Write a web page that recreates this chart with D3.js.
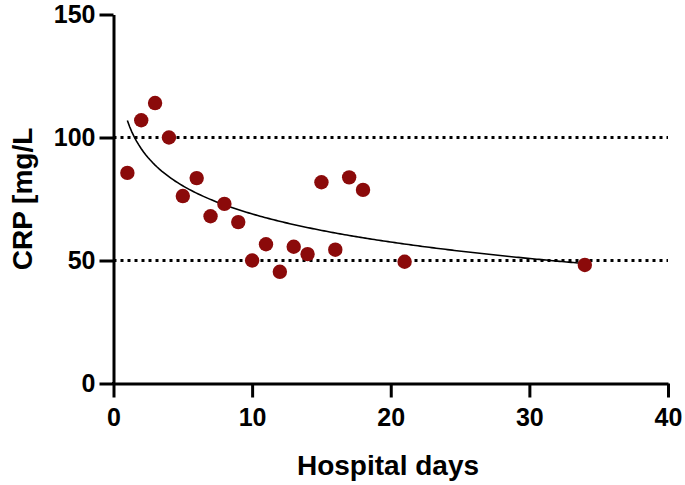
<!DOCTYPE html>
<html><head><meta charset="utf-8">
<script src="https://cdn.jsdelivr.net/npm/d3@7"></script>
<style>body{margin:0;background:#fff}svg{display:block}text{font-family:"Liberation Sans",Arial,sans-serif;font-weight:bold;fill:#000}</style>
</head><body><svg id="c" width="685" height="485"></svg>
<script>
const days = [1,2,3,4,5,6,7,8,9,10,11,12,13,14,15,16,17,18,21,34];
const crp = [85.6,107,114,100,76.2,83.5,68,73,65.6,50,56.6,45.4,55.6,52.6,81.8,54.4,83.8,78.7,49.5,48.2];
const xTicks = [0,10,20,30,40];
const yTicks = [0,50,100,150];
const refLines = [50,100];

const svg = d3.select("#c");
const x = d3.scaleLinear().domain([0,40]).range([113.5,668]);
const y = d3.scaleLinear().domain([0,150]).range([383.5,14.5]);

// reference dotted lines
svg.selectAll("line.ref").data(refLines).join("line")
  .attr("x1", x(0)).attr("x2", x(40))
  .attr("y1", d=>y(d)).attr("y2", d=>y(d))
  .attr("stroke","#000").attr("stroke-width",3)
  .attr("stroke-dasharray","3 4");

// semilog fit y = a + b ln x
const L = days.map(Math.log);
const mL = d3.mean(L), mY = d3.mean(crp);
const b = d3.sum(L.map((l,i)=>(l-mL)*(crp[i]-mY))) / d3.sum(L.map(l=>(l-mL)*(l-mL)));
const a = mY - b*mL;
const xmin = d3.min(days), xmax = d3.max(days);
const fit = d3.range(0,201).map(i=>{const xv = xmin + (xmax-xmin)*i/200; return [xv, a + b*Math.log(xv)];});
svg.append("path").datum(fit)
  .attr("d", d3.line().x(d=>x(d[0])).y(d=>y(d[1])))
  .attr("fill","none").attr("stroke","#000").attr("stroke-width",1.6);

// points
svg.selectAll("circle").data(days).join("circle")
  .attr("cx",(d)=>x(d)).attr("cy",(d,i)=>y(crp[i])).attr("r",7.2)
  .attr("fill","#8b0a0a");

// axes
const xa = svg.append("g").attr("transform",`translate(0,${y(0)})`)
  .call(d3.axisBottom(x).tickValues(xTicks).tickSize(14).tickSizeOuter(0).tickPadding(5));
const ya = svg.append("g").attr("transform",`translate(${x(0)},0)`)
  .call(d3.axisLeft(y).tickValues(yTicks).tickSize(14).tickSizeOuter(0).tickPadding(4));
[xa,ya].forEach(g=>{
  g.select(".domain").attr("stroke","#000").attr("stroke-width",3);
  g.selectAll(".tick line").attr("stroke","#000").attr("stroke-width",3);
  g.selectAll(".tick text").style("font-family",'"Liberation Sans",Arial,sans-serif')
    .style("font-weight","bold").style("font-size","25px").attr("fill","#000");
});
xa.selectAll(".tick text").attr("dy","0.95em");
// extend axis line to cover corner
svg.append("rect").attr("x",x(0)-1.5).attr("y",y(0)-1.5).attr("width",3).attr("height",3).attr("fill","#000");

svg.append("text").attr("x",388).attr("y",475).attr("text-anchor","middle")
  .style("font-size","28px").text("Hospital days");
svg.append("text").attr("transform","translate(32,199) rotate(-90)").attr("text-anchor","middle")
  .style("font-size","28px").text("CRP [mg/L");
</script></body></html>
